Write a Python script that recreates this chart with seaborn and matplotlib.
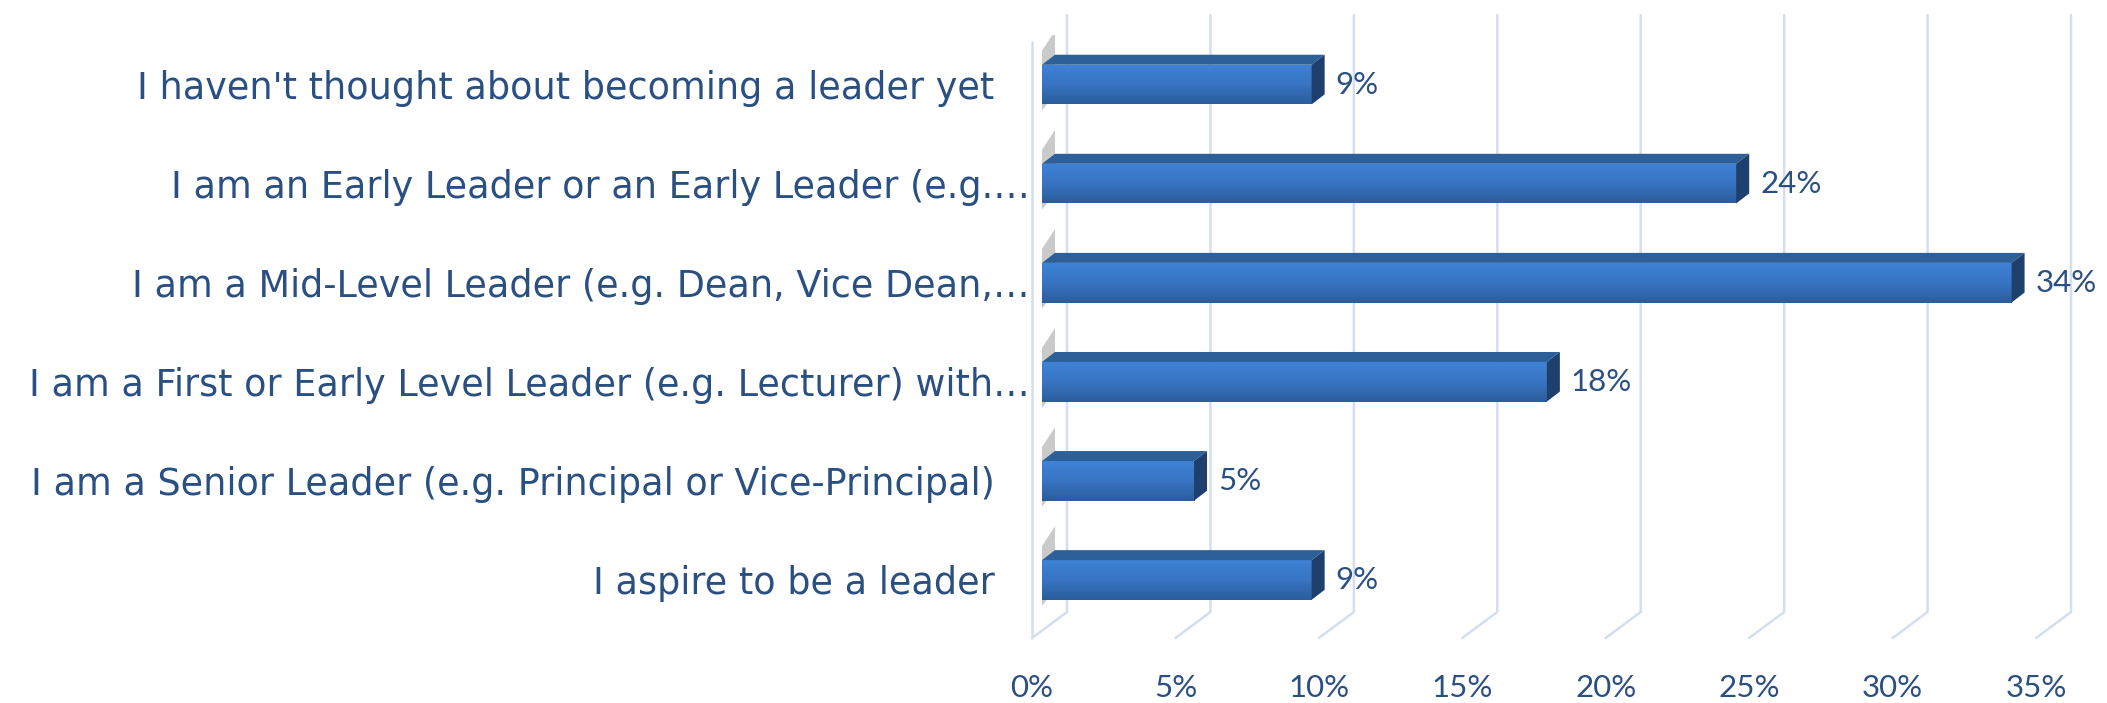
import numpy as np
import pandas as pd
import matplotlib
matplotlib.use("Agg")
import matplotlib.pyplot as plt
import seaborn as sns
from matplotlib.patches import Polygon
from matplotlib.colors import LinearSegmentedColormap
from matplotlib.transforms import ScaledTranslation

# data (share of respondents)
categories = [
    "I haven't thought about becoming a leader yet",
    "I am an Early Leader or an Early Leader (e.g.…",
    "I am a Mid-Level Leader (e.g. Dean, Vice Dean,…",
    "I am a First or Early Level Leader (e.g. Lecturer) with…",
    "I am a Senior Leader (e.g. Principal or Vice-Principal)",
    "I aspire to be a leader",
]
shares = [0.094, 0.242, 0.338, 0.176, 0.053, 0.094]
tick_values = [0, 0.05, 0.10, 0.15, 0.20, 0.25, 0.30, 0.35]
tick_labels = ["0%", "5%", "10%", "15%", "20%", "25%", "30%", "35%"]

df = pd.DataFrame({"category": categories, "share": shares})

sns.set_style("white")
TEXT = "#2a4f82"
GRID = "#d3dff1"

W, H = 2107, 703
fig = plt.figure(figsize=(W / 100, H / 100), dpi=100)
# axes box: x=0 at the bar faces, rows 99 px apart
ax = fig.add_axes([1042 / W, 1 - 629.5 / H, 1004 / W, 594.5 / H])

sns.barplot(data=df, x="share", y="category", orient="h", width=0.4,
            color="#3570bb", linewidth=0, ax=ax)
ax.set_xlim(0, 0.35)
ax.set_ylim(5.5, -0.5)

# pixel -> data unit helpers
px_x = 0.35 / 1004
px_y = 1 / 99.1

# back wall gridlines with the slanted floor edge
for t in tick_values:
    xb = t + 25 * px_x
    xf = t - 10 * px_x
    ax.plot([xb, xb, xf], [-0.5 - 20 * px_y, 5.5 - 17.5 * px_y, 5.5 + 8.5 * px_y],
            color=GRID, lw=1.8, clip_on=False, zorder=0)
# front edge of the left wall
ax.plot([-10 * px_x, -10 * px_x], [-0.5 + 7 * px_y, 5.5 + 8.5 * px_y],
        color=GRID, lw=1.8, clip_on=False, zorder=0)

# 3d look: gradient front, top face, side face, grey left end
grad = LinearSegmentedColormap.from_list("bar", ["#3f82d6", "#3874c2", "#2c5d9b"])
dx, dy = 13 * px_x, 10 * px_y
for i, p in enumerate(ax.patches):
    x0, w = p.get_x(), p.get_width()
    y0, h = p.get_y(), p.get_height()
    x1, y1 = x0 + w, y0 + h
    img = ax.imshow(np.linspace(0, 1, 50).reshape(-1, 1), cmap=grad, aspect="auto",
                    extent=(x0, x1, y1, y0), origin="upper", zorder=3)
    img.set_clip_path(p)
    ax.add_patch(Polygon([(x0, y0), (x1, y0), (x1 + dx, y0 - dy), (x0 + dx, y0 - dy)],
                         closed=True, fc="#2d5f98", ec="none", zorder=3))
    ax.add_patch(Polygon([(x1, y0), (x1, y1), (x1 + dx, y1 - dy), (x1 + dx, y0 - dy)],
                         closed=True, fc="#1f406d", ec="none", zorder=3))
    ax.add_patch(Polygon([(x0, y0 - 14 * px_y), (x0, y1 + 6 * px_y), (x0 + dx, y1 - dy),
                          (x0 + dx, y0 - dy - 24 * px_y)],
                         closed=True, fc="#a8a8a8", ec="none", alpha=0.6, zorder=2))
    ax.text(x1 + 24 * px_x, i, f"{round(shares[i] * 100):.0f}%", va="center", ha="left",
            fontsize=22.5, color=TEXT, family="Lato", zorder=4)
ax.set_xlim(0, 0.35)
ax.set_ylim(5.5, -0.5)

for s in ax.spines.values():
    s.set_visible(False)
ax.set_xlabel("")
ax.set_ylabel("")
ax.grid(False)

ax.set_xticks(tick_values)
ax.set_xticklabels(tick_labels, fontsize=22.5, color=TEXT, family="Lato")
ax.tick_params(axis="x", length=0, pad=32)
for lab in ax.get_xticklabels():
    lab.set_transform(lab.get_transform() + ScaledTranslation(-0.10, 0, fig.dpi_scale_trans))

ax.set_yticks(range(len(categories)))
ax.set_yticklabels([c if c.endswith("…") else c + "   " for c in categories],
                   fontsize=26.3, color=TEXT, family="DejaVu Sans")
ax.tick_params(axis="y", length=0, pad=9)

fig.savefig("out.png", dpi=100, facecolor="white")
